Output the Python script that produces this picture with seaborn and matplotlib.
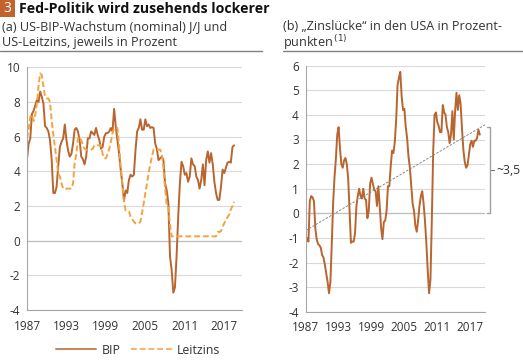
"""Fed-Politik wird zusehends lockerer - BIP, Leitzins und Zinsluecke"""
import numpy as np
import pandas as pd
import matplotlib
matplotlib.use("Agg")
import matplotlib.pyplot as plt
from matplotlib.lines import Line2D
from matplotlib.patches import Rectangle
import seaborn as sns

# Quarterly data, 1987 Q1 onward
bip = [4.7, 5.6, 5.9, 7.3, 7.5, 7.8, 8.1, 8.0, 8.6, 8.3, 7.9, 6.6,
       6.5, 6.3, 5.8, 4.7, 2.75, 2.75, 3.1, 4.3, 5.4, 5.7, 5.9, 6.7,
       5.8, 5.2, 4.85, 5.0, 5.6, 6.4, 6.5, 6.3, 5.8, 4.85, 4.7, 4.4,
       4.85, 5.9, 5.9, 6.3, 6.2, 6.1, 6.5, 6.1, 5.8, 5.3, 5.4, 6.0,
       6.2, 6.2, 6.3, 6.5, 6.3, 7.6, 6.6, 5.8, 5.05, 4.1, 3.3, 2.3,
       2.9, 2.75, 3.5, 3.8, 3.7, 3.8, 5.2, 6.3, 6.5, 7.0, 6.4, 6.4,
       7.0, 6.6, 6.7, 6.5, 6.55, 6.5, 5.6, 5.3, 4.65, 4.75, 4.85, 4.65,
       3.3, 2.9, 2.15, -0.9, -1.7, -3.0, -2.7, -0.9, 1.4, 3.3, 4.55, 4.3,
       3.8, 3.9, 3.4, 3.7, 4.75, 4.4, 4.3, 3.7, 3.5, 3.0, 3.5, 4.4,
       3.2, 4.65, 5.15, 4.5, 5.05, 4.4, 3.4, 2.75, 2.35, 2.35, 3.1, 4.1,
       3.9, 4.2, 4.5, 4.55, 4.5, 5.4, 5.5]
leitzins = [5.9, 6.4, 7.15, 7.25, 6.9, 7.25, 7.9, 8.9, 9.65, 9.55, 8.9, 8.3,
            8.2, 8.2, 8.0, 6.95, 6.1, 5.4, 4.65, 3.9, 3.7, 3.3, 3.0, 3.0,
            3.0, 3.0, 3.0, 3.0, 3.3, 4.5, 5.0, 5.9, 6.0, 5.8, 5.5, 5.3,
            5.25, 5.25, 5.25, 5.25, 5.3, 5.5, 5.5, 5.5, 5.5, 5.5, 5.0, 4.75,
            4.75, 5.0, 5.3, 5.7, 6.2, 6.5, 6.5, 6.5, 5.5, 4.3, 3.3, 2.2,
            1.75, 1.75, 1.7, 1.4, 1.25, 1.1, 1.0, 1.0, 1.0, 1.1, 1.6, 2.15,
            2.75, 3.3, 3.9, 4.4, 4.85, 5.25, 5.25, 5.25, 5.25, 5.25, 5.0, 4.2,
            3.0, 2.1, 2.0, 0.9, 0.25, 0.25, 0.25, 0.25, 0.25, 0.25, 0.25, 0.25,
            0.25, 0.25, 0.25, 0.25, 0.25, 0.25, 0.25, 0.25, 0.25, 0.25, 0.25, 0.25,
            0.25, 0.25, 0.25, 0.25, 0.25, 0.25, 0.25, 0.25, 0.5, 0.5, 0.55, 0.8,
            1.0, 1.2, 1.35, 1.5, 1.8, 2.0, 2.25]
zinsluecke = [-1.2, -1.0, -1.15, 0.5, 0.7, 0.65, 0.5, -0.6, -1.05, -1.25, -1.3, -1.4,
              -1.7, -1.8, -2.1, -2.45, -2.8, -3.25, -2.8, -1.3, 0.4, 1.45, 2.2, 3.2,
              3.5, 2.65, 2.0, 1.85, 2.15, 2.25, 2.0, 1.4, 0.1, -1.2, -1.15, -1.15,
              -0.8, 0.3, 0.7, 1.0, 0.7, 0.6, 1.0, 0.6, 0.55, -0.2, 0.1, 1.2,
              1.45, 1.2, 0.95, 0.9, 0.3, 1.1, 0.3, -0.6, -1.05, -0.35, -0.3, 0.1,
              1.1, 1.1, 1.9, 2.55, 2.45, 2.9, 3.8, 5.2, 5.5, 5.75, 4.75, 4.2,
              4.25, 3.5, 3.05, 2.3, 1.85, 1.1, 0.4, 0.1, -0.5, -0.75, -0.3, 0.3,
              0.7, 0.9, 0.4, -0.3, -1.2, -2.3, -3.25, -2.7, -0.3, 2.5, 4.0, 4.1,
              3.7, 3.55, 3.3, 3.3, 4.4, 4.1, 4.0, 3.5, 3.3, 2.85, 3.2, 4.15,
              3.0, 4.15, 4.9, 4.2, 4.8, 4.45, 3.45, 2.6, 2.1, 1.85, 1.95, 2.35,
              2.8, 2.95, 2.7, 2.95, 2.95, 3.05, 3.4, 3.2]
trend_years = [1987, 2019.7]
trend_values = [-0.7, 3.6]
year_ticks = [1987, 1993, 1999, 2005, 2011, 2017]

quarters_a = 1987 + 0.25 * np.arange(len(bip))
quarters_b = 1987 + 0.25 * np.arange(len(zinsluecke))

df_a = pd.DataFrame({'Jahr': np.concatenate([quarters_a, quarters_a]),
                     'Wert': bip + leitzins,
                     'Serie': ['BIP'] * len(bip) + ['Leitzins'] * len(leitzins)})
df_b = pd.DataFrame({'Jahr': quarters_b, 'Wert': zinsluecke})

# Style
sns.set_style("white")
plt.rcParams['font.family'] = ['Open Sans', 'DejaVu Sans']
plt.rcParams['axes.unicode_minus'] = False
text_col = '#333333'
grid_col = '#d9d9d9'
axis_col = '#a6a6a6'
brown = '#b8652f'
orange = '#f5a23f'

fig = plt.figure(figsize=(5.23, 3.6), dpi=100)
W, H = 523, 360

def px_axes(x0, x1, ytop, ybot):
    return fig.add_axes([x0 / W, 1 - ybot / H, (x1 - x0) / W, (ybot - ytop) / H])

ax1 = px_axes(27, 242, 67.3, 310)
ax2 = px_axes(305.7, 485, 65.7, 311.7)

# Panel (a)
sns.lineplot(data=df_a[df_a['Serie'] == 'BIP'], x='Jahr', y='Wert', ax=ax1,
             color=brown, lw=1.4)
sns.lineplot(data=df_a[df_a['Serie'] == 'Leitzins'], x='Jahr', y='Wert', ax=ax1,
             color=orange, lw=1.4, linestyle=(0, (3, 1.5)))
ax1.set_ylim(-4, 10)
ax1.set_yticks(range(-4, 11, 2))

# Panel (b)
sns.lineplot(data=df_b, x='Jahr', y='Wert', ax=ax2, color=brown, lw=1.4)
ax2.plot(trend_years, trend_values, color='#888888', lw=0.7, linestyle=(0, (2.5, 1.5)))
ax2.set_ylim(-4, 6)
ax2.set_yticks(range(-4, 7, 1))

for ax in (ax1, ax2):
    ax.set_xlim(1987, 2019.7)
    ax.set_xticks(year_ticks)
    ax.set_xlabel('')
    ax.set_ylabel('')
    ax.grid(axis='y', color=grid_col, lw=0.8)
    ax.axhline(0, color='#bfbfbf', lw=0.9, zorder=1)
    ax.set_axisbelow(True)
    for s in ('top', 'right'):
        ax.spines[s].set_visible(False)
    for s in ('left', 'bottom'):
        ax.spines[s].set_color(axis_col)
        ax.spines[s].set_linewidth(0.8)
    ax.tick_params(axis='both', colors=axis_col, labelcolor=text_col,
                   labelsize=8.5, length=3, width=0.8, direction='out')
    ax.tick_params(axis='x', pad=4)
    ax.tick_params(axis='y', pad=2)
    if ax.get_legend():
        ax.get_legend().remove()

# Bracket "~3,5"
bx = 2020.55
ax2.plot([2020.1, bx, bx, 2020.1], [3.5, 3.5, 0, 0], color='#a0a0a0',
         lw=1.0, clip_on=False)
ax2.plot([bx + 0.25, bx + 0.75], [1.75, 1.75], color='#707070', lw=0.8, clip_on=False)
ax2.text(bx + 1.2, 1.75, '~3,5', fontsize=8.8, color=text_col, va='center',
         ha='left', clip_on=False)

# Header
fig.add_artist(Rectangle((0, 1 - 17 / H), 15 / W, 17 / H, transform=fig.transFigure,
                         facecolor='#c0632d', edgecolor='none'))
fig.text(7.5 / W, 1 - 9 / H, '3', color='white', fontsize=10, ha='center', va='center')
fig.text(19 / W, 1 - 9 / H, 'Fed-Politik wird zusehends lockerer', fontsize=10.2,
         fontweight='bold', color='#111111', ha='left', va='center')
fig.text(2 / W, 1 - 26.5 / H, '(a) US-BIP-Wachstum (nominal) J/J und', fontsize=9.1,
         color=text_col, ha='left', va='center')
fig.text(2 / W, 1 - 42.5 / H, 'US-Leitzins, jeweils in Prozent', fontsize=9.1,
         color=text_col, ha='left', va='center')
fig.text(283 / W, 1 - 26.5 / H, '(b) \u201eZinsl\u00fccke\u201c in den USA in Prozent-',
         fontsize=9.1, color=text_col, ha='left', va='center')
fig.text(283 / W, 1 - 42.5 / H, 'punkten$^{\\,(1)}$', fontsize=9.1,
         color=text_col, ha='left', va='center')
fig.add_artist(Line2D([0, 262 / W], [1 - 50.5 / H] * 2, color='#808080', lw=1.0))
fig.add_artist(Line2D([283 / W, 1], [1 - 50.5 / H] * 2, color='#808080', lw=1.0))

# Legend
handles = [Line2D([], [], color=brown, lw=1.4, alpha=0.8),
           Line2D([], [], color=orange, lw=1.4, alpha=0.8, linestyle=(0, (3, 1.5)))]
fig.legend(handles, ['BIP', 'Leitzins'], loc='center', bbox_to_anchor=(138 / W, 1 - 350 / H),
           ncol=2, frameon=False, fontsize=8.8, handlelength=3.3, columnspacing=0.9,
           handletextpad=0.4, labelcolor=text_col)

plt.savefig('out.png', dpi=100)
